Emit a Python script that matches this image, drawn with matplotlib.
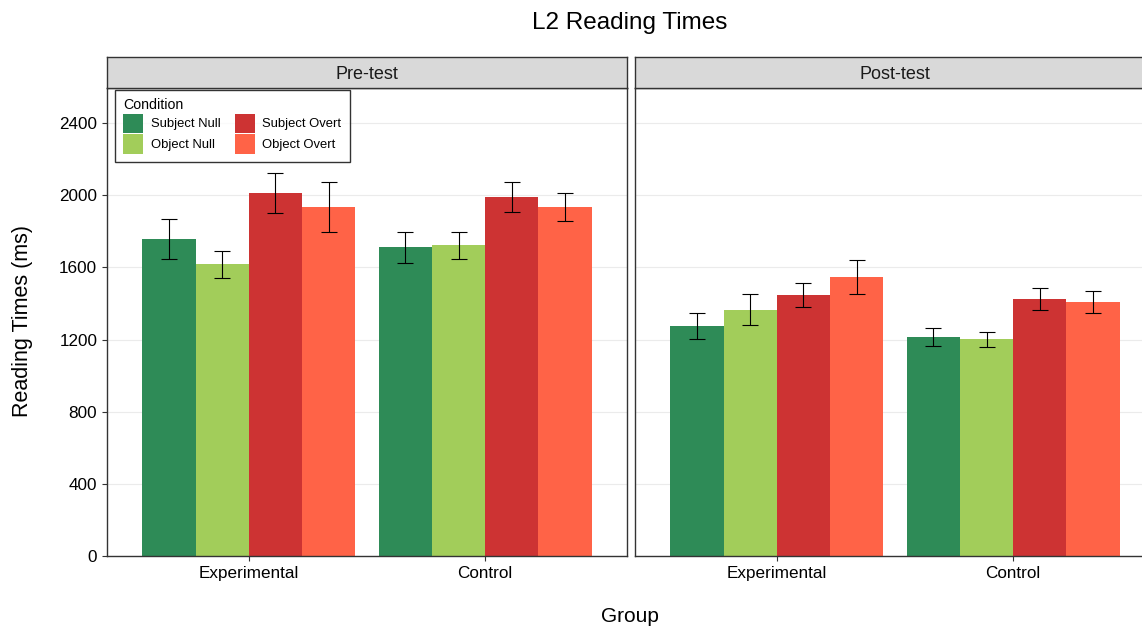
import matplotlib.pyplot as plt
import numpy as np
from matplotlib.patches import Patch

plt.rcParams['font.family'] = ['Liberation Sans', 'DejaVu Sans']

# data
groups = ['Experimental', 'Control']
conditions = ['Subject Null', 'Object Null', 'Subject Overt', 'Object Overt']
colors = ['#2E8B57', '#A2CD5A', '#CD3333', '#FF6347']
tests = ['Pre-test', 'Post-test']

pre_means = [[1757, 1617, 2012, 1936],
             [1711, 1722, 1992, 1936]]
pre_err = [[110, 75, 110, 137],
           [85, 75, 82, 78]]
post_means = [[1275, 1365, 1447, 1547],
              [1214, 1201, 1425, 1410]]
post_err = [[72, 86, 68, 97],
            [48, 42, 63, 60]]

means = [pre_means, post_means]
errs = [pre_err, post_err]

W, H = 1142, 628
fig = plt.figure(figsize=(W / 100, H / 100), dpi=100)


def px(x0, y0, x1, y1):
    return [x0 / W, 1 - y1 / H, (x1 - x0) / W, (y1 - y0) / H]


# second panel runs past the right edge, as in the reference
panels = [(107, 627), (635, 1155)]
top, strip_top, bottom = 88, 57, 556
border = '#333333'
bw = 0.9 / 4

for p, (x0, x1) in enumerate(panels):
    ax = fig.add_axes(px(x0, top, x1, bottom))
    m = np.array(means[p])
    e = np.array(errs[p])
    for g in range(len(groups)):
        for c in range(len(conditions)):
            xc = g + 1 - 0.45 + bw * (c + 0.5)
            ax.bar(xc, m[g, c], width=bw, color=colors[c], zorder=2)
            ax.errorbar(xc, m[g, c], yerr=e[g, c], color='black', lw=0.8,
                        capsize=5.5, capthick=0.8, zorder=3)
    ax.set_xlim(0.4, 2.6)
    ax.set_ylim(0, 2595)
    ax.set_xticks([1, 2])
    ax.set_xticklabels(groups)
    ax.set_yticks([0, 400, 800, 1200, 1600, 2000, 2400])
    ax.yaxis.grid(True, color='#EBEBEB', lw=0.8, zorder=0)
    ax.set_axisbelow(True)
    ax.tick_params(axis='both', colors=border, labelcolor='black', length=3.5,
                   labelsize=12.3)
    if p == 0:
        ax.set_yticklabels(['0', '400', '800', '1200', '1600', '2000', '2400'])
    else:
        ax.tick_params(axis='y', length=0, labelleft=False)
    for s in ax.spines.values():
        s.set_color(border)
        s.set_linewidth(1.0)

    if p == 0:
        handles = [Patch(facecolor=colors[i], label=conditions[i]) for i in range(4)]
        leg = ax.legend(handles=handles, title='Condition', ncol=2, loc='upper left',
                        bbox_to_anchor=(0.0154, 0.9957), borderaxespad=0,
                        fontsize=9.4, title_fontsize=10.2,
                        frameon=True, fancybox=False, edgecolor='black',
                        handlelength=1.5, handleheight=1.92, handletextpad=0.6,
                        columnspacing=1.1, labelspacing=0.08, borderpad=0.65)
        leg.get_frame().set_linewidth(1.0)
        leg._legend_box.align = 'left'

    sax = fig.add_axes(px(x0, strip_top, x1, top))
    sax.set_facecolor('#D9D9D9')
    sax.set_xticks([])
    sax.set_yticks([])
    for s in sax.spines.values():
        s.set_color(border)
        s.set_linewidth(1.0)
    sax.text(0.5, 0.45, tests[p], ha='center', va='center', fontsize=13,
             color='#1A1A1A', transform=sax.transAxes)

fig.text(630 / W, 1 - 23 / H, 'L2 Reading Times', ha='center', va='center', fontsize=17.5)
fig.text(630 / W, 1 - 617 / H, 'Group', ha='center', va='center', fontsize=15)
fig.text(23 / W, 1 - 321 / H, 'Reading Times (ms)', ha='center', va='center',
         rotation=90, fontsize=15.5)

fig.savefig('out.png', dpi=100)
